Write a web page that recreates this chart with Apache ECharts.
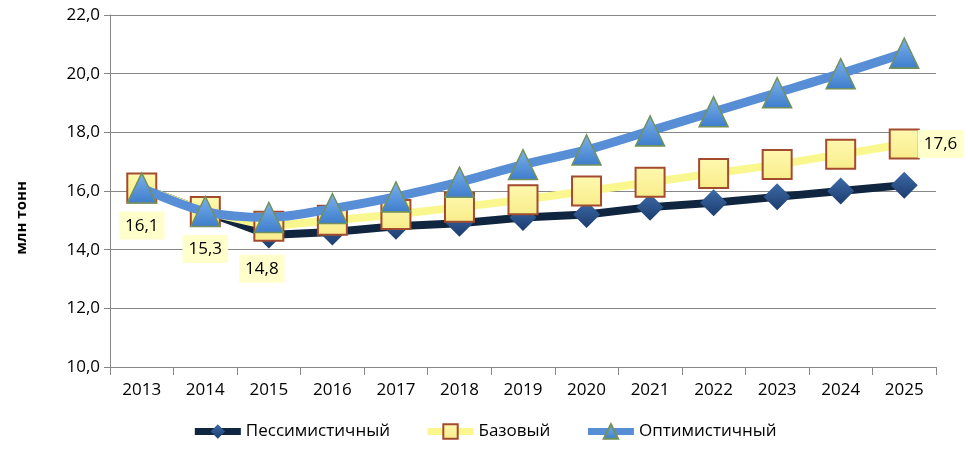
<!DOCTYPE html>
<html>
<head>
<meta charset="utf-8">
<script src="https://cdn.jsdelivr.net/npm/echarts@6/dist/echarts.min.js"></script>
<style>html,body{margin:0;padding:0;background:#fff;}#c{width:968px;height:461px;}</style>
</head>
<body>
<div id="c"></div>
<script>
var categories = ['2013','2014','2015','2016','2017','2018','2019','2020','2021','2022','2023','2024','2025'];
var pessimistic = [16.1, 15.3, 14.5, 14.6, 14.8, 14.9, 15.1, 15.2, 15.45, 15.6, 15.8, 16.0, 16.2];
var base = [16.1, 15.3, 14.8, 15.0, 15.2, 15.45, 15.7, 16.0, 16.3, 16.6, 16.9, 17.25, 17.6];
var optimistic = [16.1, 15.3, 15.1, 15.4, 15.8, 16.3, 16.9, 17.4, 18.05, 18.7, 19.35, 20.0, 20.7];
var seriesNames = ['Пессимистичный', 'Базовый', 'Оптимистичный'];
var yTicks = {min: 10, max: 22, interval: 2};
var axisTitle = 'млн тонн';
var labelledBase = [0, 1, 2, 12];

var FONT = 'Open Sans';
function fmt(v){ return Number(v).toFixed(1).replace('.', ','); }

var labelBox = {
  show: true, color: '#000', fontFamily: FONT, fontSize: 17,
  backgroundColor: '#FFFFCC', padding: [6, 6, 5, 6],
  formatter: function(p){ return fmt(p.value); }
};
var baseData = base.map(function(v, i){
  if (labelledBase.indexOf(i) < 0) return v;
  var lab = Object.assign({}, labelBox);
  if (i === labelledBase[labelledBase.length - 1]) {
    lab.position = 'right'; lab.distance = -2;
  } else {
    lab.position = 'bottom'; lab.distance = 8;
    if (i === 2) { lab.offset = [-7, 5]; }
  }
  return {value: v, label: lab};
});

var lineColors = ['#10253F', '#FAF78F', '#588ED5'];
var lineWidths = [8, 8, 9];

var chart = echarts.init(document.getElementById('c'), null, {renderer: 'canvas'});
chart.setOption({
  backgroundColor: '#fff',
  animation: false,
  grid: {left: 110, right: 32, top: 15, bottom: 94},
  legend: {
    bottom: 16, left: 'center', itemGap: 34, itemWidth: 46, itemHeight: 18,
    textStyle: {fontFamily: FONT, fontSize: 17, color: '#000'},
    data: seriesNames.map(function(n, i){
      return {name: n, lineStyle: {width: 7, color: lineColors[i]}};
    })
  },
  xAxis: {
    type: 'category', data: categories, boundaryGap: true,
    axisLine: {lineStyle: {color: '#868686', width: 1}},
    axisTick: {show: true, length: 8, lineStyle: {color: '#868686'}},
    axisLabel: {fontFamily: FONT, fontSize: 17, color: '#000', margin: 15}
  },
  yAxis: {
    type: 'value', min: yTicks.min, max: yTicks.max, interval: yTicks.interval,
    axisLine: {show: true, lineStyle: {color: '#868686', width: 1}},
    axisTick: {show: true, length: 6, lineStyle: {color: '#868686'}},
    splitLine: {lineStyle: {color: '#868686', width: 1}},
    axisLabel: {fontFamily: FONT, fontSize: 17, color: '#000', margin: 10, formatter: fmt}
  },
  graphic: [{
    type: 'text', x: 22, y: 218, rotation: Math.PI / 2,
    style: {text: axisTitle, fontFamily: FONT, fontSize: 15, fontWeight: 'bold', fill: '#000',
      textAlign: 'center', textVerticalAlign: 'middle'}
  }],
  series: [
    {
      name: seriesNames[0], type: 'line', data: pessimistic, smooth: false,
      symbol: 'diamond', symbolSize: 27,
      lineStyle: {color: lineColors[0], width: lineWidths[0]},
      itemStyle: {color: new echarts.graphic.LinearGradient(0, 0, 0, 1, [
        {offset: 0, color: '#3D6AA8'}, {offset: 1, color: '#1C3D6E'}]), borderColor: '#1C3D6E', borderWidth: 0},
      z: 2
    },
    {
      name: seriesNames[1], type: 'line', data: baseData, smooth: false,
      symbol: 'rect', symbolSize: 29,
      lineStyle: {color: lineColors[1], width: lineWidths[1]},
      itemStyle: {color: new echarts.graphic.LinearGradient(0, 0, 0, 1, [
        {offset: 0, color: '#FFF9B0'}, {offset: 1, color: '#F8EC8A'}]), borderColor: '#A34B2F', borderWidth: 2},
      z: 3
    },
    {
      name: seriesNames[2], type: 'line', data: optimistic, smooth: 0.3,
      symbol: 'triangle', symbolSize: [29, 30],
      lineStyle: {color: lineColors[2], width: lineWidths[2]},
      itemStyle: {color: new echarts.graphic.LinearGradient(0, 0, 0, 1, [
        {offset: 0, color: '#7DB3EC'}, {offset: 1, color: '#3D7CCB'}]), borderColor: '#71915C', borderWidth: 1.5},
      z: 4
    }
  ]
});
</script>
</body>
</html>
